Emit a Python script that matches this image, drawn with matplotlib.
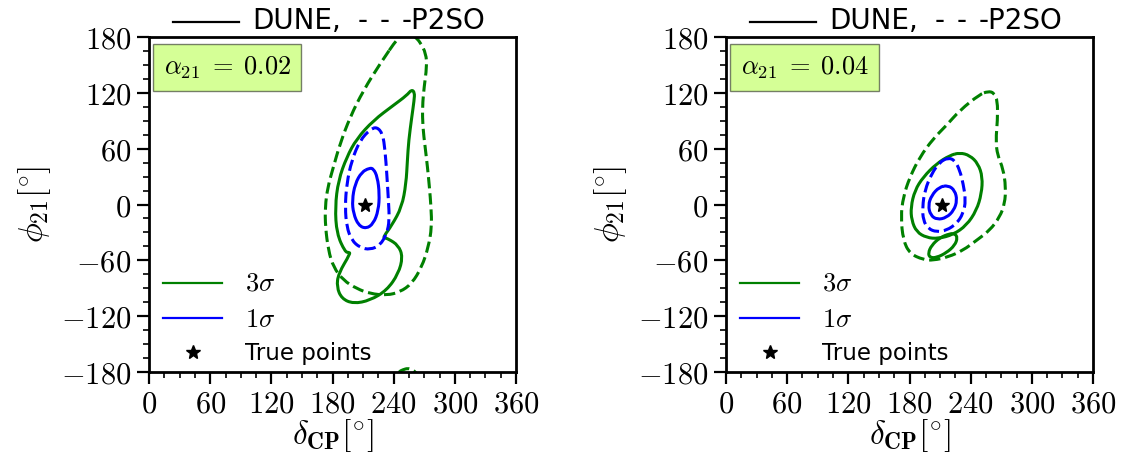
import numpy as np
import matplotlib
matplotlib.use("Agg")
import matplotlib.pyplot as plt
from matplotlib.path import Path
from matplotlib.patches import PathPatch
from matplotlib.lines import Line2D

plt.rcParams["mathtext.fontset"] = "cm"
plt.rcParams["font.family"] = ["DejaVu Sans"]

# ---- tick values / labels -------------------------------------------------
xticks = [0, 60, 120, 180, 240, 300, 360]
xtick_labels = ["$0$", "$60$", "$120$", "$180$", "$240$", "$300$", "$360$"]
yticks = [-180, -120, -60, 0, 60, 120, 180]
ytick_labels = ["$-180$", "$-120$", "$-60$", "$0$", "$60$", "$120$", "$180$"]

alpha_values = ["0.02", "0.04"]
true_delta = 212.0
true_phi = 0.0

# ---- allowed-region boundaries (delta_CP [deg], phi_21 [deg]) -------------
# alpha_21 = 0.02
p2so_3s_002 = [(244.6, 180.0), (249.0, 182.5), (254.0, 184.0), (258.5, 182.5),
               (261.0, 180.0), (265.9, 174.6), (271.7, 162.1), (272.4, 147.7),
               (269.8, 126.3), (268.1, 104.8), (268.5, 83.3), (270.8, 61.8),
               (273.1, 40.3), (275.0, 18.8), (276.6, -2.7), (277.3, -24.2),
               (274.0, -45.7), (267.5, -67.2), (257.7, -85.1), (246.2, -94.0),
               (233.2, -97.6), (216.8, -95.8), (203.7, -90.4), (190.6, -81.5),
               (180.8, -67.2), (175.9, -49.2), (173.0, -24.2), (172.7, -2.7),
               (175.3, 18.8), (180.8, 40.3), (187.4, 65.4), (197.2, 94.0),
               (210.3, 122.7), (226.6, 151.3)]
dune_3s_002 = [(257.5, 123.5), (260.5, 120.5), (260.0, 111.9), (257.7, 94.0),
               (254.7, 68.9), (253.4, 47.5), (252.1, 22.4), (247.9, -2.7),
               (238.1, -22.4), (230.0, -34.5), (231.0, -36.0), (234.5, -36.8),
               (244.6, -43.9), (248.9, -56.4), (244.6, -74.3), (233.2, -92.2),
               (216.8, -103.0), (200.5, -106.6), (189.0, -101.2), (184.1, -88.6),
               (185.7, -74.3), (197.5, -52.5), (196.0, -51.5), (192.3, -51.0),
               (184.1, -31.3), (182.5, -2.7), (185.7, 26.0), (193.9, 51.0),
               (203.7, 70.7), (220.1, 90.4), (239.7, 106.6), (252.8, 117.3)]
p2so_1s_002 = [(223.3, 83.5), (229.2, 76.1), (231.5, 58.2), (233.2, 33.1),
               (234.8, 4.5), (235.8, -17.0), (233.2, -31.3), (226.6, -43.9),
               (216.8, -48.5), (207.0, -46.4), (198.8, -38.5), (193.9, -24.2),
               (192.3, -2.7), (193.9, 22.4), (198.8, 47.5), (207.0, 69.1),
               (216.8, 80.5)]
dune_1s_002 = [(216.2, 39.2), (220.1, 38.5), (224.0, 29.5), (226.0, 11.6),
               (225.0, -6.3), (220.1, -20.6), (212.9, -26.0), (205.4, -22.4),
               (200.5, -9.8), (199.2, 4.5), (202.1, 22.4), (208.6, 34.9)]

# alpha_21 = 0.04
p2so_3s_004 = [(257.1, 121.6), (262.7, 120.2), (266.3, 111.9), (266.3, 90.4),
               (264.6, 68.9), (266.3, 52.8), (271.8, 38.5), (274.4, 18.8),
               (273.4, 0.9), (268.5, -13.4), (258.7, -27.8), (245.7, -38.5),
               (232.6, -49.2), (217.9, -56.4), (203.2, -60.0), (193.4, -59.3),
               (180.3, -52.8), (173.8, -38.5), (171.5, -13.4), (173.8, 8.1),
               (180.3, 29.5), (190.1, 51.0), (203.2, 70.7), (216.3, 85.1),
               (229.3, 101.2), (248.9, 118.4)]
dune_3s_004 = [(229.3, 55.7), (239.1, 52.8), (247.3, 43.9), (251.6, 29.5),
               (250.6, 11.6), (245.7, -6.3), (235.9, -22.4), (222.8, -32.4),
               (208.1, -36.7), (196.7, -35.6), (186.9, -29.5), (182.0, -17.0),
               (181.3, -2.7), (185.2, 15.2), (193.4, 29.5), (206.5, 43.9),
               (219.5, 52.8)]
dune_3s_004_island = [(224.4, -31.3), (227.1, -35.6), (224.4, -43.9),
                      (216.3, -51.8), (206.5, -57.1), (199.9, -57.1),
                      (198.3, -52.1), (201.6, -43.9), (209.7, -35.6),
                      (219.5, -31.3)]
p2so_1s_004 = [(217.9, 50.3), (224.4, 47.5), (229.3, 36.7), (232.6, 22.4),
               (235.2, 4.5), (232.6, -9.8), (226.1, -20.6), (216.3, -27.8),
               (206.5, -29.5), (198.3, -26.0), (193.4, -17.0), (192.7, -2.7),
               (195.0, 15.2), (201.6, 33.1), (209.7, 45.7)]
dune_1s_004 = [(217.9, 20.6), (224.4, 15.2), (226.7, 4.5), (223.5, -6.3),
               (216.3, -14.1), (207.1, -16.3), (200.6, -11.6), (198.3, -0.9),
               (201.6, 9.8), (209.1, 18.8)]

GREEN = "green"
BLUE = "blue"
LW = 2.2


def closed_smooth_path(points, dy=0.0):
    """Closed quadratic B-spline path using the boundary points as control points."""
    pts = np.asarray(points, dtype=float) + np.array([0.0, dy])
    n = len(pts)
    mids = 0.5 * (pts + np.roll(pts, -1, axis=0))
    verts = [mids[-1]]
    codes = [Path.MOVETO]
    for i in range(n):
        verts += [pts[i], mids[i]]
        codes += [Path.CURVE3, Path.CURVE3]
    return Path(np.array(verts), codes)


def draw_region(ax, points, color, ls, wrap=False):
    shifts = [0.0, -360.0] if wrap else [0.0]
    for s in shifts:
        ax.add_patch(PathPatch(closed_smooth_path(points, s), fill=False,
                               edgecolor=color, linestyle=ls, lw=LW,
                               capstyle="butt", joinstyle="round"))


fig = plt.figure(figsize=(11.3, 4.53), dpi=100)
ax1 = fig.add_axes([0.1319, 0.1788, 0.3248, 0.7395])
ax2 = fig.add_axes([0.6425, 0.1788, 0.3248, 0.7395])

draw_region(ax1, p2so_3s_002, GREEN, "--", wrap=True)
draw_region(ax1, dune_3s_002, GREEN, "-")
draw_region(ax1, p2so_1s_002, BLUE, "--")
draw_region(ax1, dune_1s_002, BLUE, "-")

draw_region(ax2, p2so_3s_004, GREEN, "--")
draw_region(ax2, dune_3s_004, GREEN, "-")
draw_region(ax2, dune_3s_004_island, GREEN, "-")
draw_region(ax2, p2so_1s_004, BLUE, "--")
draw_region(ax2, dune_1s_004, BLUE, "-")

for ax, alpha in zip([ax1, ax2], alpha_values):
    ax.plot([], [], color=GREEN, lw=1.6, label=r"$3\sigma$")
    ax.plot([], [], color=BLUE, lw=1.6, label=r"$1\sigma$")
    ax.plot([true_delta], [true_phi], ls="none", marker="*", color="k",
            ms=10, label="True points")

    ax.set_xlim(0, 360)
    ax.set_ylim(-180, 180)
    ax.set_xticks(xticks)
    ax.set_xticklabels(xtick_labels)
    ax.set_yticks(yticks)
    ax.set_yticklabels(ytick_labels)
    ax.set_xticks(np.arange(0, 361, 15), minor=True)
    ax.set_yticks(np.arange(-180, 181, 15), minor=True)
    ax.tick_params(which="major", direction="out", length=8.8, width=1.6,
                   labelsize=22, pad=4)
    ax.tick_params(which="minor", direction="out", length=4.5, width=1.2)
    for sp in ax.spines.values():
        sp.set_linewidth(2.0)

    ax.set_xlabel(r"$\delta_{\mathbf{CP}}[^{\circ}]$", fontsize=24, labelpad=-1)
    ax.set_ylabel(r"$\phi_{\mathbf{21}}[^{\circ}]$", fontsize=24, labelpad=6)

    leg = ax.legend(loc="lower left", bbox_to_anchor=(0.019, 0.0),
                    frameon=False, fontsize=16.5,
                    handlelength=2.6, handletextpad=1.0, labelspacing=0.42,
                    borderaxespad=0.2, borderpad=0.1, numpoints=1)
    for t in leg.get_texts()[:2]:
        t.set_fontsize(19)

    ax.text(0.0395, 0.948, r"$\alpha_{21}\;=\;%s$" % alpha,
            transform=ax.transAxes, fontsize=19, ha="left", va="top",
            bbox=dict(boxstyle="square,pad=0.4", facecolor="greenyellow",
                      alpha=0.5))

    # header: solid line for DUNE, dashed text for P2SO
    ax.add_line(Line2D([0.065, 0.245], [1.046, 1.046], color="k", lw=1.6,
                       transform=ax.transAxes, clip_on=False))
    for xpos, piece in [(0.281, "DUNE,"), (0.567, "-"), (0.627, "-"),
                        (0.689, "-P2SO")]:
        ax.text(xpos, 1.023, piece, transform=ax.transAxes,
                fontsize=20, ha="left", va="baseline")

fig.savefig("out.png", dpi=100)
